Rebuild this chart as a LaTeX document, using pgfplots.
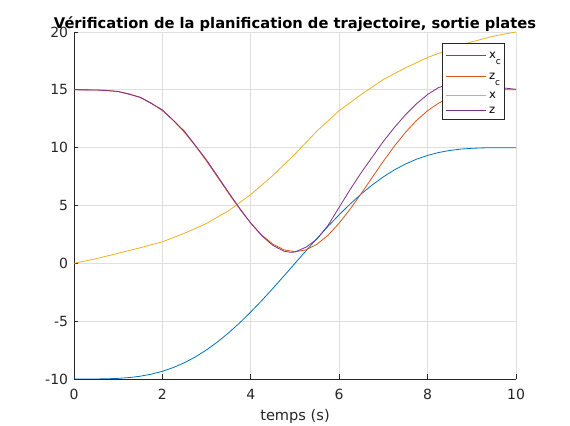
\documentclass[border=0pt]{standalone}
\usepackage{fontspec}
\setmainfont{DejaVu Sans}
\usepackage{pgfplots}
\pgfplotsset{compat=1.18}
\usepackage{pgfplotstable}
\definecolor{cA}{RGB}{0,114,189}
\definecolor{cB}{RGB}{217,83,25}
\definecolor{cC}{RGB}{237,177,32}
\definecolor{cD}{RGB}{126,47,142}
\definecolor{axc}{RGB}{38,38,38}
\definecolor{gridc}{RGB}{223,223,223}

\pgfplotstableread{
t v
0 -10
0.25 -9.9997
0.5 -9.996
0.75 -9.982
1 -9.945
1.25 -9.875
1.5 -9.758
1.75 -9.581
2 -9.333
2.25 -9.005
2.5 -8.589
2.75 -8.081
3 -7.479
3.25 -6.785
3.5 -6.003
3.75 -5.140
4 -4.204
4.25 -3.208
4.5 -2.166
4.75 -1.091
5 0
5.25 1.091
5.5 2.166
5.75 3.208
6 4.204
6.25 5.140
6.5 6.003
6.75 6.785
7 7.479
7.25 8.081
7.5 8.589
7.75 9.005
8 9.333
8.25 9.581
8.5 9.758
8.75 9.875
9 9.945
9.25 9.982
9.5 9.996
9.75 9.9997
10 10
}\xc

\pgfplotstableread{
t v
0 15
0.25 14.999
0.5 14.989
0.75 14.949
1 14.848
1.25 14.653
1.5 14.330
1.75 13.851
2 13.195
2.25 12.352
2.5 11.328
2.75 10.142
3 8.832
3.25 7.445
3.5 6.045
3.75 4.698
4 3.475
4.25 2.441
4.5 1.657
4.75 1.167
5 1.0
5.25 1.167
5.5 1.657
5.75 2.441
6 3.475
6.25 4.698
6.5 6.045
6.75 7.445
7 8.832
7.25 10.142
7.5 11.328
7.75 12.352
8 13.195
8.25 13.851
8.5 14.330
8.75 14.653
9 14.848
9.25 14.949
9.5 14.989
9.75 14.999
10 15
}\zc

\pgfplotstableread{
t v
0 0
0.5 0.4
1 0.87
1.5 1.35
2 1.86
2.5 2.6
3 3.45
3.5 4.55
4 5.95
4.5 7.6
5 9.45
5.5 11.45
6 13.2
6.5 14.6
7 15.9
7.5 16.9
8 17.8
8.5 18.5
9 19.15
9.5 19.65
10 20
}\xx

\pgfplotstableread{
t v
0 15
0.5 14.99
1 14.86
1.5 14.36
2 13.27
2.5 11.42
3 8.93
3.5 6.12
3.75 4.75
4 3.47
4.25 2.38
4.5 1.55
4.75 1.05
4.9 0.95
5 0.98
5.25 1.4
5.5 2.1
5.75 3.3
6 4.85
6.25 6.4
6.5 7.85
6.75 9.2
7 10.55
7.25 11.75
7.5 12.85
7.75 13.8
8 14.6
8.25 15.2
8.5 15.5
8.75 15.6
9 15.55
9.25 15.45
9.5 15.3
9.75 15.15
10 15.05
}\zz

\newcommand{\sub}[1]{\raisebox{-6bp}{\fontsize{9bp}{10bp}\selectfont #1}}

\begin{document}
\begin{tikzpicture}
\useasboundingbox (0,0) rectangle (570bp,426bp);
\begin{axis}[
  at={(74bp,47bp)}, anchor=south west,
  scale only axis, width=442bp, height=347bp,
  xmin=0, xmax=10, ymin=-10, ymax=20,
  xtick={0,2,4,6,8,10}, ytick={-10,-5,0,5,10,15,20},
  xticklabels={0,2,4,6,8,10}, yticklabels={-10,-5,0,5,10,15,20},
  axis x line*=bottom, axis y line*=left,
  axis line style={axc, line width=0.7bp, -},
  tick align=inside, major tick length=4.5bp,
  tick style={axc, line width=0.7bp},
  grid=major, major grid style={gridc, line width=0.7bp},
  ticklabel style={font=\fontsize{14bp}{16bp}\selectfont, text=axc},
  xticklabel style={anchor=north, inner sep=0pt, yshift=-10bp},
  yticklabel style={anchor=east, inner sep=0pt, xshift=-5.7bp},
  title={Vérification de la planification de trajectoire, sortie plates},
  title style={font=\bfseries\fontsize{14.7bp}{18bp}\selectfont, at={(0.5,1)}, anchor=base, yshift=-2.1bp, inner sep=0pt},
  xlabel={temps (s)},
  xlabel style={font=\fontsize{14.6bp}{17bp}\selectfont, text=axc, at={(0.5,0)}, anchor=base, yshift=-41bp, inner sep=0pt},
  legend style={at={(0.9735,0.9674)}, anchor=north east, draw=axc, line width=0.7bp,
    font=\fontsize{11.6bp}{14bp}\selectfont, inner xsep=3bp, inner ysep=2bp, row sep=0bp, column sep=3bp,
    nodes={inner sep=0pt, text depth=, text height=}},
  legend cell align=left,
  legend style={cells={anchor=base west}},
  legend image code/.code={\path (0bp,0bp) (40bp,0bp); \draw[#1, line width=0.9bp] (0bp,3.2bp) -- (40bp,3.2bp);},
  every axis plot/.append style={line width=0.8bp},
]
\addplot[color=cA, no marks] table[x=t,y=v] {\xc};
\addlegendentry{\rule[-9bp]{0pt}{22.2bp}x\sub{c}}
\addplot[color=cB, no marks] table[x=t,y=v] {\zc};
\addlegendentry{\rule[-9bp]{0pt}{21bp}z\sub{c}}
\addplot[color=cC, no marks] table[x=t,y=v] {\xx};
\addlegendentry{\rule[-4.7bp]{0pt}{14.7bp}x}
\addplot[color=cD, no marks] table[x=t,y=v] {\zz};
\addlegendentry{\rule[-3.8bp]{0pt}{13.8bp}z}
\end{axis}
\end{tikzpicture}
\end{document}
